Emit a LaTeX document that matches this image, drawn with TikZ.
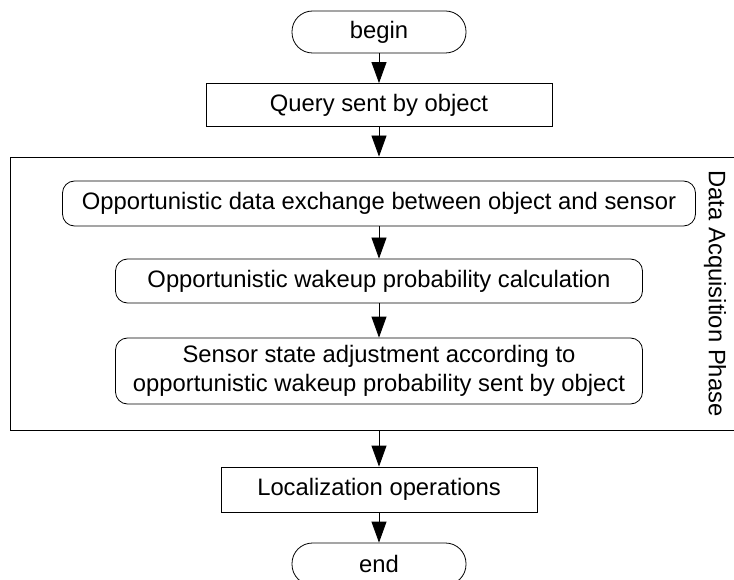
\documentclass[tikz,border=0pt]{standalone}
\usepackage{fontspec}
\setmainfont{Liberation Sans}
\usetikzlibrary{arrows.meta}

\begin{document}
\begin{tikzpicture}[x=1pt,y=-1pt,
   font=\fontsize{23.8}{28.6}\selectfont,
   every node/.style={draw,line width=0.8pt,align=center,inner sep=0pt},
   terminal/.style={rounded corners=20.5pt,minimum width=174pt,minimum height=42pt},
   process/.style={minimum height=43pt},
   substep/.style={rounded corners=12pt,minimum height=45pt},
   flow/.style={-{Triangle[length=21pt,width=15pt]},line width=0.8pt}]
\clip (0,0) rectangle (734,580);
\node[terminal] (begin) at (379,32) {begin};
\node[process,minimum width=346pt] (query) at (379,105) {Query sent by object};
\node[minimum width=738pt,minimum height=273pt] (phase) at (379,293.5) {};
\node[draw=none,rotate=-90] (phaselabel) at (715,293.5) {Data Acquisition Phase};
\node[substep,minimum width=633pt] (exchange) at (379,203.5)
    {Opportunistic data exchange between object and sensor};
\node[substep,minimum width=527pt,minimum height=44pt] (wakeup) at (379,281)
    {Opportunistic wakeup probability calculation};
\node[substep,minimum width=527pt,minimum height=66pt] (adjust) at (379,371)
    {Sensor state adjustment according to\\
     opportunistic wakeup probability sent by object};
\node[process,minimum width=316pt,minimum height=45pt] (local) at (379,489.5)
    {Localization operations};
\node[terminal] (end) at (379,564) {end};
\draw[flow] (begin) -- (query);
\draw[flow] (query) -- (phase);
\draw[flow] (exchange) -- (wakeup);
\draw[flow] (wakeup) -- (adjust);
\draw[flow] (phase) -- (local);
\draw[flow] (local) -- (end);
\end{tikzpicture}
\end{document}
